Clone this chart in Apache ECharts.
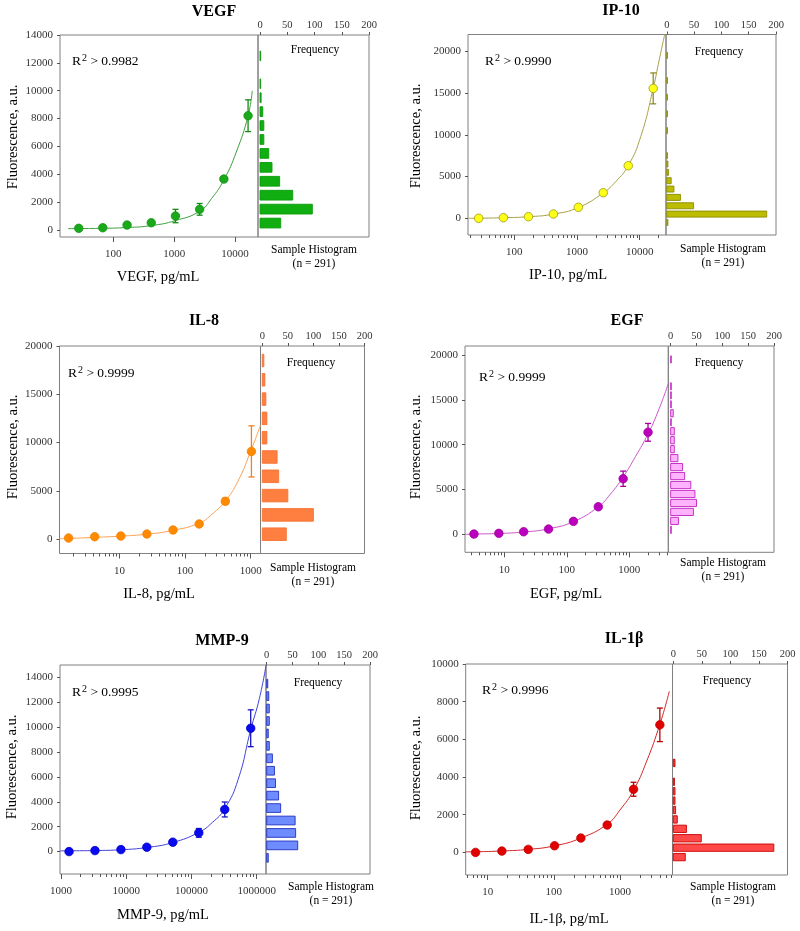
<!DOCTYPE html>
<html>
<head>
<meta charset="utf-8">
<script src="https://cdn.jsdelivr.net/npm/echarts@6/dist/echarts.min.js"></script>
<style>
  html, body { margin: 0; background: #fff; }
  #chart { width: 800px; height: 931px; }
</style>
</head>
<body>
<div id="chart"></div>
<script>
// ---- data ----
// VEGF
var vegfConc = [27, 67, 168, 420, 1050, 2620, 6560, 16400];
var vegfFluor = [122, 165, 359, 524, 1005, 1486, 3661, 8206];
var vegfErr = [0, 0, 0, 0, 480, 420, 0, 1140];
var vegfFitConc = [18, 27, 67, 168, 420, 1050, 2620, 4100, 6560, 10500, 16400, 19200];
var vegfFitFluor = [100, 105, 125, 180, 320, 680, 1350, 2250, 3600, 5600, 8200, 10000];
var vegfBins = [0, 1000, 2000, 3000, 4000, 5000, 6000, 7000, 8000, 9000, 10000, 11000, 12000];
var vegfFreq = [38, 96, 60, 36, 22, 16, 7, 7, 5, 2, 1, 0, 1];
var vegfXTicks = [100, 1000, 10000];
var vegfYTicks = [0, 2000, 4000, 6000, 8000, 10000, 12000, 14000];

// IP-10
var ip10Conc = [27, 67, 168, 420, 1050, 2620, 6560, 16400];
var ip10Fluor = [0, 72, 191, 514, 1316, 3062, 6292, 15550];
var ip10Err = [0, 0, 0, 0, 0, 0, 0, 1850];
var ip10FitConc = [18.5, 27, 67, 168, 420, 1050, 2620, 4150, 6560, 10400, 16400, 20500, 25000];
var ip10FitFluor = [0, 10, 70, 190, 500, 1300, 3050, 4400, 6300, 9800, 15550, 19000, 22000];
var ip10Bins = [-1000, 0, 1000, 2000, 3000, 4000, 5000, 6000, 7000, 10000, 12000, 14000, 16000, 19000];
var ip10Freq = [2, 183, 49, 25, 13, 8, 3, 2, 1, 1, 1, 1, 1, 1];
var ip10XTicks = [100, 1000, 10000];
var ip10YTicks = [0, 5000, 10000, 15000, 20000];

// IL-8
var il8Conc = [1.68, 4.2, 10.5, 26.2, 65.6, 164, 410, 1025];
var il8Fluor = [104, 239, 312, 520, 936, 1560, 3910, 9080];
var il8Err = [0, 0, 0, 0, 0, 0, 330, 2650];
var il8FitConc = [1.22, 1.68, 4.2, 10.5, 26.2, 65.6, 164, 260, 410, 640, 1025, 1410];
var il8FitFluor = [30, 60, 170, 300, 500, 900, 1650, 2600, 3950, 6000, 9300, 11800];
var il8Bins = [-500, 1500, 3500, 5500, 7500, 9500, 11500, 13500, 15500, 17500];
var il8Freq = [47, 100, 50, 32, 29, 9, 9, 7, 5, 3];
var il8XTicks = [10, 100, 1000];
var il8YTicks = [0, 5000, 10000, 15000, 20000];

// EGF
var egfConc = [3.27, 8.17, 20.4, 51, 127.6, 319, 797, 1994];
var egfFluor = [33, 111, 290, 591, 1450, 3078, 6200, 11376];
var egfErr = [0, 0, 0, 0, 0, 0, 850, 990];
var egfFitConc = [2.35, 3.27, 8.17, 20.4, 51, 127.6, 319, 500, 797, 1260, 1994, 3000, 4200];
var egfFitFluor = [0, 30, 100, 260, 620, 1420, 3080, 4500, 6400, 8700, 11200, 14000, 16800];
var egfBins = [0, 1000, 2000, 3000, 4000, 5000, 6000, 7000, 8000, 9000, 10000, 11000, 12000, 13000, 14000, 15000, 16000, 19000];
var egfFreq = [1, 15, 44, 50, 47, 39, 27, 23, 14, 7, 7, 7, 1, 5, 1, 1, 1, 1];
var egfXTicks = [10, 100, 1000];
var egfYTicks = [0, 5000, 10000, 15000, 20000];

// MMP-9
var mmp9Conc = [1330, 3320, 8300, 20700, 51800, 129600, 324000, 810000];
var mmp9Fluor = [0, 81, 161, 355, 758, 1507, 3386, 9915];
var mmp9Err = [0, 0, 0, 0, 0, 350, 600, 1480];
var mmp9FitConc = [970, 1330, 3320, 8300, 20700, 51800, 129600, 210000, 324000, 520000, 810000, 1100000, 1390000];
var mmp9FitFluor = [60, 65, 85, 150, 330, 730, 1550, 2350, 3450, 5800, 9800, 12300, 14950];
var mmp9Bins = [-1000, 0, 1000, 2000, 3000, 4000, 5000, 6000, 7000, 8000, 9000, 10000, 11000, 12000, 13000];
var mmp9Freq = [3, 60, 56, 55, 27, 23, 17, 15, 11, 5, 3, 5, 5, 4, 2];
var mmp9XTicks = [1000, 10000, 100000, 1000000];
var mmp9YTicks = [0, 2000, 4000, 6000, 8000, 10000, 12000, 14000];

// IL-1b
var il1bConc = [6.56, 16.4, 41, 102.5, 256, 640, 1600, 4000];
var il1bFluor = [0, 69, 160, 351, 761, 1452, 3351, 6771];
var il1bErr = [0, 0, 0, 0, 0, 0, 370, 890];
var il1bFitConc = [4.66, 6.56, 16.4, 41, 102.5, 256, 640, 1000, 1600, 2500, 4000, 5560];
var il1bFitFluor = [30, 35, 75, 160, 350, 760, 1500, 2250, 3300, 4800, 6800, 8550];
var il1bBins = [-500, 0, 500, 1000, 1500, 2000, 2500, 3000, 3500, 4500];
var il1bFreq = [21, 176, 49, 23, 7, 4, 3, 3, 2, 3];
var il1bXTicks = [10, 100, 1000];
var il1bYTicks = [0, 2000, 4000, 6000, 8000, 10000];

var freqTicks = [0, 50, 100, 150, 200];
var sampleN = 291;

var FONT = '"Liberation Serif", "Times New Roman", serif';

// ---- layout / styling per panel ----
var panels = [
  { title: 'VEGF', unit: 'VEGF, pg/mL', r2: '0.9982',
    conc: vegfConc, fluor: vegfFluor, err: vegfErr, fitConc: vegfFitConc, fitFluor: vegfFitFluor,
    bins: vegfBins, binWidth: 1000, freq: vegfFreq, xTicks: vegfXTicks, yTicks: vegfYTicks,
    box: [60, 35, 258, 237], histRight: 369, xRange: [1.123, 4.378], yRange: [-500, 14000], freqMin: -3.7, minor: false,
    titlePos: [214, 12], r2Pos: [72, 61], freqPos: [315, 50], histPos: [314, 250], xNamePos: [158, 277], yNamePos: [13, 137],
    dot: '#1aa91a', dotBorder: '#129412', line: '#3f9f3f', errColor: '#138a13', barColor: '#10ae10', barBorder: '#0c9c0c', barFrac: 0.7 },
  { title: 'IP-10', unit: 'IP-10, pg/mL', r2: '0.9990',
    conc: ip10Conc, fluor: ip10Fluor, err: ip10Err, fitConc: ip10FitConc, fitFluor: ip10FitFluor,
    bins: ip10Bins, binWidth: 1000, freq: ip10Freq, xTicks: ip10XTicks, yTicks: ip10YTicks,
    box: [468, 34.5, 666, 235], histRight: 776, xRange: [1.261, 4.419], yRange: [-2000, 22000], freqMin: -1.5, minor: true,
    titlePos: [621, 11], r2Pos: [485, 61], freqPos: [719, 52], histPos: [723, 249], xNamePos: [568, 275], yNamePos: [416, 136],
    dot: '#ffff1a', dotBorder: '#9a9a10', line: '#a8a048', errColor: '#8f8a30', barColor: '#bcbc00', barBorder: '#8c8c00', barFrac: 0.72 },
  { title: 'IL-8', unit: 'IL-8, pg/mL', r2: '0.9999',
    conc: il8Conc, fluor: il8Fluor, err: il8Err, fitConc: il8FitConc, fitFluor: il8FitFluor,
    bins: il8Bins, binWidth: 2000, freq: il8Freq, xTicks: il8XTicks, yTicks: il8YTicks,
    box: [59.5, 346, 260.5, 553.5], histRight: 364.5, xRange: [0.087, 3.149], yRange: [-1500, 20000], freqMin: -3.5, minor: true,
    titlePos: [204, 321], r2Pos: [68, 373], freqPos: [311, 363], histPos: [313, 568], xNamePos: [159, 594], yNamePos: [13, 447],
    dot: '#ff8a00', dotBorder: '#f57f00', line: '#ffa050', errColor: '#f08020', barColor: '#ff7f40', barBorder: '#f57232', barFrac: 0.65 },
  { title: 'EGF', unit: 'EGF, pg/mL', r2: '0.9999',
    conc: egfConc, fluor: egfFluor, err: egfErr, fitConc: egfFitConc, fitFluor: egfFitFluor,
    bins: egfBins, binWidth: 1000, freq: egfFreq, xTicks: egfXTicks, yTicks: egfYTicks,
    box: [465, 346, 668.3, 552.3], histRight: 774, xRange: [0.371, 3.624], yRange: [-2000, 21000], freqMin: -4.6, minor: true,
    titlePos: [627, 321], r2Pos: [479, 377], freqPos: [719, 363], histPos: [723, 563], xNamePos: [566, 594], yNamePos: [416, 447],
    dot: '#bb00bb', dotBorder: '#a000a0', line: '#cc55cc', errColor: '#a000a0', barColor: '#ffb3ff', barBorder: '#c020c0', barFrac: 0.8 },
  { title: 'MMP-9', unit: 'MMP-9, pg/mL', r2: '0.9995',
    conc: mmp9Conc, fluor: mmp9Fluor, err: mmp9Err, fitConc: mmp9FitConc, fitFluor: mmp9FitFluor,
    bins: mmp9Bins, binWidth: 1000, freq: mmp9Freq, xTicks: mmp9XTicks, yTicks: mmp9YTicks,
    box: [60, 665, 266, 874], histRight: 370, xRange: [2.985, 6.143], yRange: [-1800, 15000], freqMin: -1.4, minor: true,
    titlePos: [222, 641], r2Pos: [72, 692], freqPos: [318, 683], histPos: [331, 887], xNamePos: [163, 915], yNamePos: [12, 767],
    dot: '#0a0aee', dotBorder: '#0000c8', line: '#4040d8', errColor: '#1515c0', barColor: '#6f8cff', barBorder: '#2030c0', barFrac: 0.7 },
  { title: 'IL-1\u03b2', unit: 'IL-1\u03b2, pg/mL', r2: '0.9996',
    conc: il1bConc, fluor: il1bFluor, err: il1bErr, fitConc: il1bFitConc, fitFluor: il1bFitFluor,
    bins: il1bBins, binWidth: 500, freq: il1bFreq, xTicks: il1bXTicks, yTicks: il1bYTicks,
    box: [465.7, 664, 672.5, 875], histRight: 787.5, xRange: [0.668, 3.793], yRange: [-1200, 10000], freqMin: -1.4, minor: true,
    titlePos: [624, 639], r2Pos: [482, 690], freqPos: [727, 681], histPos: [733, 887], xNamePos: [569, 919], yNamePos: [416, 768],
    dot: '#e00000', dotBorder: '#c80000', line: '#d02828', errColor: '#b00000', barColor: '#ff4848', barBorder: '#c80000', barFrac: 0.78 }
];

// minor log ticks (2..9 in each decade) inside the axis range
function minorLogs(lo, hi) {
  var out = [];
  for (var d = Math.floor(lo); d <= Math.ceil(hi); d++) {
    for (var m = 2; m <= 9; m++) {
      var v = d + Math.log10(m);
      if (v > lo && v < hi) out.push(v);
    }
  }
  return out;
}

function plain(v) { return String(v); }

function txt(x, y, text, size, opts) {
  opts = opts || {};
  return {
    type: 'text', x: x, y: y, rotation: opts.rotation || 0, silent: true,
    style: {
      text: text, fill: '#000', fontFamily: FONT, fontSize: size, fontWeight: opts.bold ? 'bold' : 'normal',
      textAlign: opts.align || 'center', align: opts.align || 'center',
      textVerticalAlign: 'middle', verticalAlign: 'middle', rich: opts.rich
    }
  };
}

var grid = [], xAxis = [], yAxis = [], series = [], graphic = [];
var border = '#808080';
var labelStyle = { fontFamily: FONT, fontSize: 11, color: '#333' };

panels.forEach(function (p) {
  var L = p.box[0], T = p.box[1], R = p.box[2], B = p.box[3];
  var g = grid.length;
  grid.push({ left: L, top: T, width: R - L, height: B - T, show: true, borderColor: border, borderWidth: 1,
              containLabel: false, outerBoundsMode: 'none' });
  grid.push({ left: R, top: T, width: p.histRight - R, height: B - T, show: true, borderColor: border, borderWidth: 1,
              containLabel: false, outerBoundsMode: 'none' });

  var majors = p.xTicks.map(function (v) { return Math.log10(v); });
  var xi = xAxis.length;
  xAxis.push({
    gridIndex: g, type: 'value', position: 'bottom', min: p.xRange[0], max: p.xRange[1],
    axisLine: { show: false, onZero: false }, splitLine: { show: false },
    axisTick: { show: true, customValues: majors, length: 5, lineStyle: { color: '#555' } },
    axisLabel: Object.assign({ customValues: majors, margin: 12,
      formatter: function (v) { return String(Math.round(Math.pow(10, v))); } }, labelStyle)
  });
  if (p.minor) {
    xAxis.push({
      gridIndex: g, type: 'value', position: 'bottom', min: p.xRange[0], max: p.xRange[1],
      axisLine: { show: false, onZero: false }, splitLine: { show: false }, axisLabel: { show: false },
      axisTick: { show: true, customValues: minorLogs(p.xRange[0], p.xRange[1]), length: 3, lineStyle: { color: '#555' } }
    });
  }
  var hxi = xAxis.length;
  xAxis.push({
    gridIndex: g + 1, type: 'value', position: 'top', min: p.freqMin, max: 200,
    axisLine: { show: false, onZero: false }, splitLine: { show: false },
    axisTick: { show: true, customValues: freqTicks, length: 3, lineStyle: { color: '#555' } },
    axisLabel: Object.assign({ customValues: freqTicks, margin: 4, formatter: plain }, labelStyle, { fontSize: 10.5 })
  });

  var yi = yAxis.length;
  yAxis.push({
    gridIndex: g, type: 'value', position: 'left', min: p.yRange[0], max: p.yRange[1],
    axisLine: { show: false, onZero: false }, splitLine: { show: false },
    axisTick: { show: true, customValues: p.yTicks, length: 3, lineStyle: { color: '#555' } },
    axisLabel: Object.assign({ customValues: p.yTicks, margin: 7, formatter: plain }, labelStyle)
  });
  var hyi = yAxis.length;
  yAxis.push({ gridIndex: g + 1, type: 'value', min: p.yRange[0], max: p.yRange[1], show: false,
               axisLine: { onZero: false }, splitLine: { show: false } });

  // fitted curve
  series.push({
    type: 'line', xAxisIndex: xi, yAxisIndex: yi, silent: true, z: 2,
    data: p.fitConc.map(function (c, k) { return [Math.log10(c), p.fitFluor[k]]; }),
    smooth: 0.5, showSymbol: false, symbol: 'none',
    lineStyle: { width: 1, color: p.line }
  });

  // error bars
  series.push({
    type: 'custom', xAxisIndex: xi, yAxisIndex: yi, silent: true, z: 3,
    data: p.conc.map(function (c, k) { return [Math.log10(c), p.fluor[k], p.err[k]]; })
               .filter(function (d) { return d[2] > 0; }),
    encode: { x: 0, y: 1 },
    renderItem: function (params, api) {
      var x = api.value(0), y = api.value(1), e = api.value(2);
      var hi = api.coord([x, y + e]), lo = api.coord([x, y - e]);
      var w = 3, st = { stroke: p.errColor, lineWidth: 1.3 };
      return { type: 'group', children: [
        { type: 'line', shape: { x1: hi[0], y1: hi[1], x2: lo[0], y2: lo[1] }, style: st },
        { type: 'line', shape: { x1: hi[0] - w, y1: hi[1], x2: hi[0] + w, y2: hi[1] }, style: st },
        { type: 'line', shape: { x1: lo[0] - w, y1: lo[1], x2: lo[0] + w, y2: lo[1] }, style: st }
      ] };
    }
  });

  // standards
  series.push({
    type: 'scatter', xAxisIndex: xi, yAxisIndex: yi, silent: true, z: 4,
    data: p.conc.map(function (c, k) { return [Math.log10(c), p.fluor[k]]; }),
    symbolSize: 8.5, itemStyle: { color: p.dot, borderColor: p.dotBorder, borderWidth: 0.8, opacity: 1 }
  });

  // sample histogram
  series.push({
    type: 'custom', xAxisIndex: hxi, yAxisIndex: hyi, silent: true, z: 2,
    data: p.bins.map(function (b, k) { return [p.freq[k], b, b + p.binWidth]; })
               .filter(function (d) { return d[0] > 0; }),
    encode: { x: 0, y: [1, 2] },
    renderItem: function (params, api) {
      var f = api.value(0), lo = api.value(1), hi = api.value(2);
      var pad = (hi - lo) * (1 - p.barFrac) / 2;
      var a = api.coord([0, lo + pad]), b = api.coord([f, hi - pad]);
      return { type: 'rect',
        shape: { x: a[0], y: b[1], width: Math.max(b[0] - a[0], 0.6), height: a[1] - b[1] },
        style: { fill: p.barColor, stroke: p.barBorder, lineWidth: 0.9 } };
    }
  });

  // texts
  graphic.push(txt(p.titlePos[0], p.titlePos[1], p.title, 16, { bold: true }));
  graphic.push(txt(p.r2Pos[0], p.r2Pos[1], '{a|R}{s|2}{a| > ' + p.r2 + '}', 13.5, {
    align: 'left',
    rich: {
      a: { fontFamily: FONT, fontSize: 13.5, fill: '#000', color: '#000', lineHeight: 16 },
      s: { fontFamily: FONT, fontSize: 10, fill: '#000', color: '#000', verticalAlign: 'top', lineHeight: 10, padding: [0, 0, 0, 1] }
    }
  }));
  graphic.push(txt(p.freqPos[0], p.freqPos[1], 'Frequency', 11.5));
  graphic.push(txt(p.histPos[0], p.histPos[1], 'Sample Histogram', 11.5));
  graphic.push(txt(p.histPos[0], p.histPos[1] + 14, '(n = ' + sampleN + ')', 11.5));
  graphic.push(txt(p.xNamePos[0], p.xNamePos[1], p.unit, 14.5));
  graphic.push(txt(p.yNamePos[0], p.yNamePos[1], 'Fluorescence, a.u.', 14.5, { rotation: Math.PI / 2 }));
});

var chart = echarts.init(document.getElementById('chart'), null, { renderer: 'canvas' });
chart.setOption({
  animation: false,
  backgroundColor: '#fff',
  grid: grid,
  xAxis: xAxis,
  yAxis: yAxis,
  series: series,
  graphic: { elements: graphic }
});
</script>
</body>
</html>
